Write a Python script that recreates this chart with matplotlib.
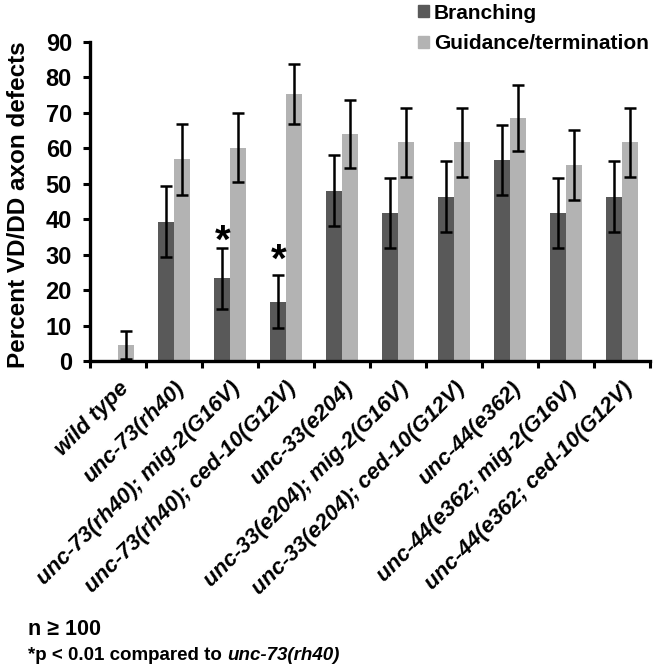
import matplotlib
matplotlib.use("Agg")
import matplotlib.pyplot as plt
import numpy as np
from matplotlib.patches import Patch

plt.rcParams['font.family'] = ['Liberation Sans', 'DejaVu Sans']
plt.rcParams['font.weight'] = 'bold'

categories = ["wild type", "unc-73(rh40)", "unc-73(rh40); mig-2(G16V)",
              "unc-73(rh40); ced-10(G12V)", "unc-33(e204)", "unc-33(e204); mig-2(G16V)",
              "unc-33(e204); ced-10(G12V)", "unc-44(e362)", "unc-44(e362; mig-2(G16V)",
              "unc-44(e362; ced-10(G12V)"]
branching = [0, 39.3, 23.3, 16.7, 48.0, 41.7, 46.4, 56.7, 41.7, 46.4]
branching_err = [0, 10.0, 8.5, 7.5, 10.0, 9.9, 10.0, 10.0, 9.9, 10.0]
guidance = [4.5, 56.9, 60.2, 75.3, 64.0, 61.7, 61.7, 68.5, 55.3, 61.7]
guidance_err = [4.0, 10.0, 9.8, 8.5, 9.6, 9.7, 9.7, 9.3, 10.0, 9.7]
star_idx = [2, 3]
star_y = [33.5, 28.4]
yticks = list(range(0, 91, 10))

c_branch = "#595959"
c_guid = "#b3b3b3"

fig = plt.figure(figsize=(6.54, 6.72), dpi=100)
ax = fig.add_axes([90/654, 1-361/672, 560/654, 319/672])

x = np.arange(len(categories))
w = 0.277
ax.bar(x - w/2, branching, w, color=c_branch, edgecolor='none', zorder=2)
ax.bar(x + w/2, guidance, w, color=c_guid, edgecolor='none', zorder=2)

bmask = [i for i in range(len(x)) if branching[i] > 0]
ax.errorbar(x[bmask] - w/2, [branching[i] for i in bmask], yerr=[branching_err[i] for i in bmask],
            fmt='none', ecolor='black', elinewidth=1.8, capsize=4.3, capthick=1.8, zorder=3)
ax.errorbar(x + w/2, guidance, yerr=guidance_err,
            fmt='none', ecolor='black', elinewidth=1.8, capsize=4.3, capthick=1.8, zorder=3)

for i, yy in zip(star_idx, star_y):
    ax.text(x[i] - w/2, yy, "*", ha='center', va='center', fontsize=29, fontweight='bold')

ax.set_xlim(-0.5, len(categories) - 0.5)
ax.set_ylim(0, 90)
ax.set_yticks(yticks)
ax.set_yticklabels([str(t) for t in yticks], fontsize=17, fontweight='bold')
ax.set_xticks(x)
ax.set_xticks(np.arange(-0.5, len(categories), 1.0), minor=True)
ax.tick_params(axis='x', which='major', length=0, pad=12)
ax.tick_params(axis='x', which='minor', length=5, width=2.2, direction='out')
ax.tick_params(axis='y', length=5, width=2.2, direction='out', pad=8)
ax.set_xticklabels(categories, rotation=45, ha='right', va='top', rotation_mode='anchor',
                   fontsize=16, fontweight='bold', fontstyle='italic')
for s in ['top', 'right']:
    ax.spines[s].set_visible(False)
for s in ['left', 'bottom']:
    ax.spines[s].set_linewidth(2.4)
ax.set_ylabel("Percent VD/DD axon defects", fontsize=17.5, fontweight='bold')
ax.yaxis.set_label_coords(-0.107, 0.49)

handles = [Patch(color=c_branch, label="Branching"), Patch(color=c_guid, label="Guidance/termination")]
fig.legend(handles=handles, loc='upper left', bbox_to_anchor=(410/654, 1.0067), frameon=False,
           handlelength=0.5, handleheight=0.5, handletextpad=0.25, labelspacing=0.55,
           borderaxespad=0, prop={'weight': 'bold', 'size': 15})

fig.text(28/654, 1-635/672, "n \u2265 100", fontsize=15.5, fontweight='bold', ha='left', va='baseline')
t1 = fig.text(28/654, 1-660/672, "*p < 0.01 compared to ", fontsize=13.5, fontweight='bold',
              ha='left', va='baseline')
fig.canvas.draw()
bb = t1.get_window_extent(renderer=fig.canvas.get_renderer())
fig.text(bb.x1/fig.bbox.width, 1-660/672, "unc-73(rh40)", fontsize=13.5, fontweight='bold',
         fontstyle='italic', ha='left', va='baseline')

fig.savefig("out.png", dpi=100)
